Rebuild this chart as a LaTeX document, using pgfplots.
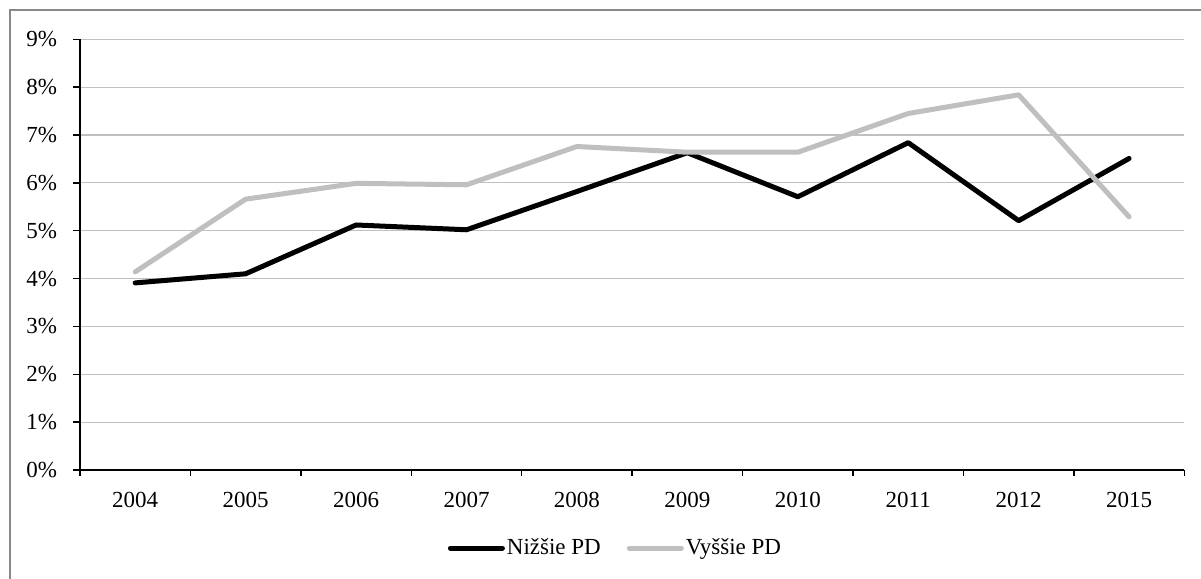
\documentclass[border=0pt]{standalone}
\usepackage{fontspec}
\setmainfont{Liberation Serif}
\usepackage{pgfplots}
\pgfplotsset{compat=1.18}
\definecolor{lgray}{HTML}{BFBFBF}
\definecolor{gridgray}{HTML}{C0C0C0}
\definecolor{framegray}{HTML}{898989}
\begin{document}
\begin{tikzpicture}[font=\fontsize{11.5}{13.8}\selectfont]
\begin{axis}[
  at={(0,0)}, anchor=south west,
  scale only axis,
  width=552.15pt, height=215.35pt,
  xmin=-0.5, xmax=9.5, ymin=0, ymax=9,
  axis lines*=left,
  axis line style={black, line width=0.7pt},
  xtick={0,...,9},
  xticklabels={2004,2005,2006,2007,2008,2009,2010,2011,2012,2015},
  minor xtick={-0.5,0.5,...,9.5},
  major x tick style={draw=none},
  minor x tick style={draw=black, line width=0.7pt},
  ytick={0,...,9},
  yticklabels={0\%,1\%,2\%,3\%,4\%,5\%,6\%,7\%,8\%,9\%},
  y tick style={black, line width=0.7pt},
  tick align=outside,
  major tick length=3.5pt, minor tick length=3pt,
  ymajorgrids, xmajorgrids=false, xminorgrids=false,
  major grid style={gridgray, line width=0.6pt},
  /pgf/number format/assume math mode=true,
  xticklabel style={yshift=-4pt},
  yticklabel style={xshift=-4.5pt},
  legend columns=2,
  legend style={at={(0.4849,-0.1811)}, anchor=center, draw=none, fill=none,
    inner sep=0pt, nodes={inner xsep=1pt},
    /tikz/every even column/.append style={column sep=12pt}},
  legend image code/.code={\draw[#1] (0pt,0pt) -- (26pt,0pt);},
]
\addplot[black, line width=2.5pt, line cap=round, line join=round] coordinates {
 (0,3.91) (1,4.10) (2,5.12) (3,5.02) (4,5.82) (5,6.63) (6,5.71) (7,6.84) (8,5.21) (9,6.51)};
\addlegendentry{Nižšie PD}
\addplot[lgray, line width=2.5pt, line cap=round, line join=round] coordinates {
 (0,4.14) (1,5.66) (2,5.99) (3,5.96) (4,6.76) (5,6.64) (6,6.64) (7,7.45) (8,7.84) (9,5.29)};
\addlegendentry{Vyššie PD}
\end{axis}
\draw[framegray, line width=0.6pt] (-35pt,-80pt) -- (-35pt,230pt) -- (620pt,230pt);
\pgfresetboundingbox
\useasboundingbox (-40pt,-54.5pt) rectangle (560.5pt,235pt);
\end{tikzpicture}
\end{document}
